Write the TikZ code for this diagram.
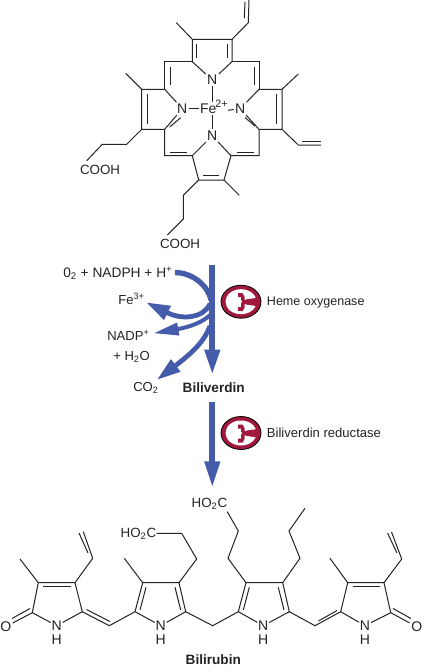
\documentclass[tikz,border=0pt]{standalone}
\usepackage{fontspec}
\setmainfont{Liberation Sans}
\usetikzlibrary{arrows.meta,calc}
\definecolor{flowblue}{RGB}{68,92,170}
\definecolor{enzymered}{RGB}{160,24,62}
\definecolor{bondgray}{RGB}{35,35,35}

\begin{document}
\begin{tikzpicture}[
    x=0.75pt,y=-0.75pt,>=Latex,
    every node/.style={align=center, inner sep=1pt, text=bondgray},
    bond/.style={draw=bondgray,line width=0.75pt,line join=miter},
    atom/.style={font=\fontsize{10.5}{12}\selectfont},
    group/.style={font=\fontsize{10}{12}\selectfont},
    flowlabel/.style={font=\fontsize{9.8}{12}\selectfont},
    title/.style={font=\bfseries\fontsize{10.2}{12}\selectfont},
    mainflow/.style={draw=flowblue,line width=4.4pt,-{Triangle[length=19pt,width=10.8pt]}},
    sideflow/.style={draw=flowblue,line width=3.6pt,-{Triangle[length=18pt,width=10.8pt]}},
    enzyme/.pic={
      \fill[enzymered,draw=black,line width=0.6pt] (0,0) ellipse [x radius=20,y radius=16.5];
      \fill[white] (0,0) ellipse [x radius=15.5,y radius=12.5];
      \fill[enzymered] (17,-4) -- (6,-2.5) -- (3.5,-1.5) -- (3.5,-5) -- (1.5,-8.5) -- (-3,-8.5) -- (-3,-4.5) -- (0,-4.5) -- (0,-1.5) -- (1.5,0) -- (0,1.5)
        -- (0,5.5) -- (-3,5.5) -- (-3,9.5) -- (1.5,9.5) -- (3.5,6) -- (3.5,2) -- (6,3) -- (17,4.5) -- cycle;
    }
  ]
  \useasboundingbox (0,0) rectangle (422,669);
  % heme
  \coordinate (t1) at (192.3,61.7);
  \coordinate (t2) at (192.3,39.3);
  \coordinate (t3) at (232,39.3);
  \coordinate (t4) at (232,61.7);
  \coordinate (mtl) at (164.7,61.7);
  \coordinate (mtr) at (259,61.7);
  \coordinate (l1) at (164.7,89.3);
  \coordinate (l2) at (141.7,89.3);
  \coordinate (l3) at (141.7,129.3);
  \coordinate (l4) at (164.7,129.3);
  \coordinate (r1) at (259,89.3);
  \coordinate (r2) at (282,89.3);
  \coordinate (r3) at (282,129.3);
  \coordinate (r4) at (259,129.3);
  \coordinate (mbl) at (164.7,155.7);
  \coordinate (mbr) at (259,155.7);
  \coordinate (b1) at (192.3,155.7);
  \coordinate (b2) at (198.7,180);
  \coordinate (b3) at (224,180);
  \coordinate (b4) at (231,155.7);
  \node[atom] (fe) at (208.3,108.7) {Fe};
  \node[font=\fontsize{8}{10}\selectfont,inner sep=0pt] (charge) at (221.5,103.8) {2+};
  \node[atom] (ntop) at (212.3,80) {N};
  \node[atom] (nleft) at (182.3,108.7) {N};
  \node[atom] (nright) at (240.3,108.7) {N};
  \node[atom] (nbottom) at (212.3,135.7) {N};
  \node[group] (coohleft) at (100,170.3) {COOH};
  \node[group] (coohbottom) at (180,244.3) {COOH};
  \draw[bond] (176.3,22.7) -- (t2) -- (t3) -- (248.3,22.7) -- (249,0);
  \draw[bond] (244.3,18) -- (245,2);
  \draw[bond] (196.8,44) -- (196.8,58);
  \draw[bond] (227.5,44) -- (227.5,58);
  \draw[bond] (t2) -- (t1) -- (ntop);
  \draw[bond] (t3) -- (t4) -- (ntop);
  \draw[bond] (t1) -- (mtl) -- (l1);
  \draw[bond] (t4) -- (mtr) -- (r1);
  \draw[bond] (170,66.5) -- (170,85);
  \draw[bond] (254,66.5) -- (254,85);
  \draw[bond] (125.7,73.3) -- (l2) -- (l3) -- (l4) -- (nleft);
  \draw[bond] (l2) -- (l1) -- (nleft);
  \draw[bond] (147.3,94) -- (147.3,123.5);
  \draw[bond] (169.7,127) -- (180.7,117.7);
  \draw[bond] (l3) -- (126.7,144.3) -- (102.3,144.3) -- (86.7,160.7);
  \draw[bond] (298.3,74) -- (r2) -- (r3) -- (r4) -- (nright);
  \draw[bond] (r2) -- (r1) -- (nright);
  \draw[bond] (276.7,94) -- (276.7,123.5);
  \draw[bond] (255,126) -- (245,117.5);
  \draw[bond] (r3) -- (298.3,145) -- (321,145);
  \draw[bond] (301.7,141.3) -- (321,141.3);
  \draw[bond] (l4) -- (mbl) -- (b1) -- (nbottom);
  \draw[bond] (r4) -- (mbr) -- (b4) -- (nbottom);
  \draw[bond] (170,152) -- (186.7,152);
  \draw[bond] (236.5,152) -- (254,152);
  \draw[bond] (b1) -- (b2) -- (b3) -- (b4);
  \draw[bond] (203.3,175) -- (219.3,175);
  \draw[bond] (b3) -- (239.3,195.3);
  \draw[bond] (b2) -- (183.3,195.3) -- (183.3,219) -- (167.3,235);
  \draw[bond] (fe) -- (nleft);
  \draw[bond] (charge.south east) ++(0,2.5) -- (nright);
  \draw[bond] (fe.north -| ntop) -- (ntop);
  \draw[bond] (fe.south -| nbottom) -- (nbottom);
  % reaction
  \coordinate (hemeend) at (212.3,265);
  \coordinate (hemetip) at (212.3,375);
  \coordinate (redstart) at (212.3,401.5);
  \coordinate (redtip) at (212.3,488);
  \node[anchor=west,inner sep=0pt,font=\fontsize{10.3}{12}\selectfont] (oxygen) at (63,273) {0\textsubscript{2} + NADPH + H\textsuperscript{+}};
  \node[flowlabel,anchor=west,inner sep=0pt] (feiii) at (118,298.5) {Fe\textsuperscript{3+}};
  \node[flowlabel,anchor=west,inner sep=0pt] (nadp) at (107,335) {NADP\textsuperscript{+}};
  \node[flowlabel,anchor=west,inner sep=0pt] (water) at (113,356.5) {+ H\textsubscript{2}O};
  \node[flowlabel,anchor=west,inner sep=0pt] (carbon) at (133,387.5) {CO\textsubscript{2}};
  \node[title] (biliverdin) at (213.7,387.7) {Biliverdin};
  \node[anchor=west,inner sep=0pt,font=\fontsize{9.4}{12}\selectfont] (oxygenase) at (266.7,302) {Heme oxygenase};
  \node[flowlabel,anchor=west,inner sep=0pt] (reductase) at (266.7,433) {Biliverdin reductase};
  \coordinate (oxystart) at (175,272.5);
  \coordinate (oxyend) at (211,300);
  \coordinate (festart) at (210,304);
  \coordinate (fetip) at (146,302.3);
  \coordinate (nadpstart) at (210,315);
  \coordinate (nadptip) at (153.3,333.3);
  \coordinate (cotwostart) at (210,326);
  \coordinate (cotwotip) at (156.7,380);
  \draw[mainflow] (hemeend) -- (hemetip);
  \draw[mainflow,-{Triangle[length=20pt,width=10.8pt]}] (redstart) -- (redtip);
  \draw[draw=flowblue,line width=4pt] (oxystart) .. controls (190,272.5) and (207,283) .. (oxyend);
  \draw[sideflow] (festart) .. controls (204,317) and (184,321) .. (fetip);
  \draw[sideflow,line width=3pt,-{Triangle[length=19pt,width=9pt]}] (nadpstart) .. controls (203,322) and (190,327) .. (nadptip);
  \draw[sideflow] (cotwostart) .. controls (204,342) and (192,353) .. (cotwotip);
  \pic (oxyicon) at (241,301.7) {enzyme};
  \pic (redicon) at (241,433) {enzyme};
  % bilirubin
  \coordinate (aa) at (32.3,612.7);
  \coordinate (ab) at (38.3,582.7);
  \coordinate (ac) at (75,582.7);
  \coordinate (ad) at (82.3,611.7);
  \coordinate (ba) at (135,611.7);
  \coordinate (bb) at (142.7,582.7);
  \coordinate (bc) at (179,582.7);
  \coordinate (bd) at (185.7,611.7);
  \coordinate (ca) at (238.3,611.7);
  \coordinate (cb) at (246,582.7);
  \coordinate (cc) at (282.7,582.7);
  \coordinate (cd) at (289.3,611.7);
  \coordinate (da) at (340.7,611.7);
  \coordinate (db) at (347.7,582.7);
  \coordinate (dc) at (384,582.7);
  \coordinate (dd) at (390.7,612.7);
  \node[atom] (oleft) at (5.7,626.7) {O};
  \node[atom] (oright) at (416.7,626.7) {O};
  \node[atom,inner sep=0.5pt] (na) at (56.7,625.7) {N};
  \node[atom,inner sep=0.5pt] (nb) at (160.7,625.7) {N};
  \node[atom,inner sep=0.5pt] (nc) at (263.3,625.7) {N};
  \node[atom,inner sep=0.5pt] (nd) at (365,625.7) {N};
  \node[atom,inner sep=0.5pt] (ha) at (56.7,640) {H};
  \node[atom,inner sep=0.5pt] (hb) at (160.7,640) {H};
  \node[atom,inner sep=0.5pt] (hc) at (263.3,640) {H};
  \node[atom,inner sep=0.5pt] (hd) at (365,640) {H};
  \node[group,anchor=east,inner sep=0pt] (acidleft) at (156.5,533.5) {HO\textsubscript{2}C};
  \node[group,anchor=east,inner sep=0pt] (acidright) at (227.5,503.5) {HO\textsubscript{2}C};
  \node[title] (bilirubin) at (213.3,660) {Bilirubin};
  \draw[bond] (oleft) -- (aa) -- (ab) -- (ac) -- (ad) -- (na) -- (aa);
  \draw[bond] (12,618.5) -- (30,608.5);
  \draw[bond] (43.3,586.7) -- (70.7,586.7);
  \draw[bond] (20,559) -- (ab);
  \draw[bond] (ac) -- (92.7,558.3) -- (83.3,531.7);
  \draw[bond] (88,553) -- (79,533);
  \draw[bond] (ad) -- (109.3,625.7) -- (ba);
  \draw[bond] (86.5,609.5) -- (110,621.5);
  \draw[bond] (ba) -- (bb) -- (bc) -- (bd) -- (nb) -- (ba);
  \draw[bond] (140,610) -- (146,587.3);
  \draw[bond] (180.7,610) -- (175,587.3);
  \draw[bond] (124.3,558.3) -- (bb);
  \draw[bond] (bc) -- (196.7,559) -- (181.7,533.3) -- (acidleft);
  \draw[bond] (bd) -- (212.7,625.7) -- (ca);
  \draw[bond] (ca) -- (cb) -- (cc) -- (cd) -- (nc) -- (ca);
  \draw[bond] (243.3,610) -- (249.3,587.3);
  \draw[bond] (284,610) -- (278.3,587.3);
  \draw[bond] (cb) -- (228,558.3) -- (238.3,531) -- (227.3,511.7);
  \draw[bond] (cc) -- (300,558.3) -- (289,531) -- (305,508.3);
  \draw[bond] (cd) -- (315,625.7) -- (da);
  \draw[bond] (318.5,621) -- (337,610.5);
  \draw[bond] (da) -- (db) -- (dc) -- (dd) -- (nd) -- (da);
  \draw[bond] (353.3,586.7) -- (380,586.7);
  \draw[bond] (330,558.3) -- (db);
  \draw[bond] (dc) -- (401.7,559) -- (391.5,532);
  \draw[bond] (397,553) -- (387.5,533);
  \draw[bond] (dd) -- (oright);
  \draw[bond] (393,608.5) -- (411,618.5);
\end{tikzpicture}
\end{document}
